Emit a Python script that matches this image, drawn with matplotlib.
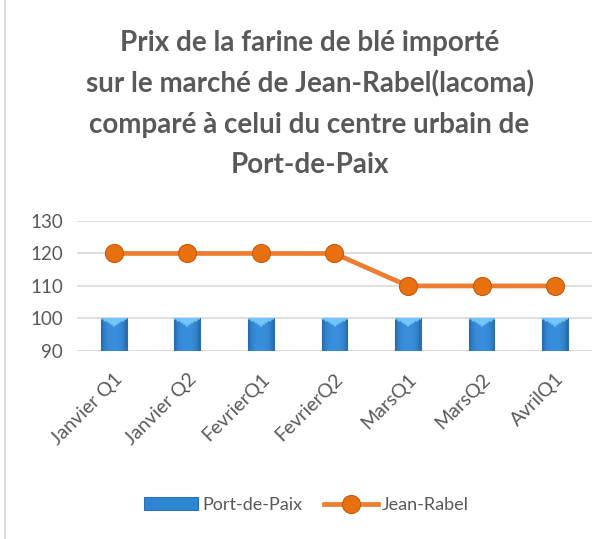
import matplotlib
matplotlib.use("Agg")
import matplotlib.pyplot as plt
import numpy as np
from matplotlib.patches import Rectangle

categories = ["Janvier Q1", "Janvier Q2", "FevrierQ1", "FevrierQ2", "MarsQ1", "MarsQ2", "AvrilQ1"]
port_de_paix = [100, 100, 100, 100, 100, 100, 100]
jean_rabel = [120, 120, 120, 120, 110, 110, 110]
yticks = [90, 100, 110, 120, 130]
title = "Prix de la farine de blé importé\nsur le marché de Jean-Rabel(lacoma)\ncomparé à celui du centre urbain de\nPort-de-Paix"

plt.rcParams['font.family'] = ['Lato', 'DejaVu Sans']
fig = plt.figure(figsize=(6.13, 5.39), dpi=100)
fig.patches.append(Rectangle((0.008, -0.01), 1.1, 1.1, transform=fig.transFigure,
                             fill=False, edgecolor='#d9d9d9', linewidth=1.2))
ax = fig.add_axes([0.1256, 0.349, 0.840, 0.241])
x = np.arange(len(categories))
bars = ax.bar(x, np.array(port_de_paix) - 90, bottom=90, width=0.35, color='#2f86d0',
              edgecolor='#2a6fae', linewidth=0.8, zorder=2, label='Port-de-Paix')
# gradient shading inside each bar
grad = np.zeros((20, 20, 3))
cx = np.abs(np.linspace(-1, 1, 20))[None, :]
dark = np.array([0.16, 0.42, 0.68])
mid = np.array([0.22, 0.56, 0.86])
light = np.array([0.45, 0.78, 0.98])
for i in range(3):
    grad[:, :, i] = mid[i] * (1 - cx ** 3) + dark[i] * cx ** 3
yy = np.linspace(1, 0, 20)[:, None]
mask = (yy > 0.78) & (cx < (yy - 0.78) / 0.22 + 0.05)
for i in range(3):
    grad[:, :, i] = np.where(mask, light[i], grad[:, :, i])
for b in bars:
    x0, y0 = b.get_x(), b.get_y()
    im = ax.imshow(grad, extent=(x0, x0 + b.get_width(), y0, y0 + b.get_height()),
                   aspect='auto', zorder=2.1, origin='upper', interpolation='bilinear')
    im.set_clip_path(b)
ax.plot(x, jean_rabel, color='#ED7D31', linewidth=3.4, marker='o', markersize=13,
        markerfacecolor='#E8700F', markeredgecolor='#c55a11', markeredgewidth=0.8,
        zorder=3, label='Jean-Rabel')
ax.set_xlim(-0.5, len(categories) - 0.5)
ax.set_ylim(90, 130)
ax.set_yticks(yticks)
ax.grid(axis='y', color='#d9d9d9', linewidth=1.2, zorder=0)
ax.set_axisbelow(True)
for s in ax.spines.values():
    s.set_visible(False)
ax.tick_params(axis='y', length=0, labelsize=13.5, colors='#595959', pad=10)
ax.tick_params(axis='x', length=0, labelsize=14, colors='#595959', pad=14)
ax.set_xticks(x)
ax.set_xticklabels(categories, rotation=45, ha='right', rotation_mode='anchor')
fig.suptitle(title, x=0.505, y=0.945, fontsize=20, fontweight='bold', color='#595959',
             linespacing=1.68)
h, l = ax.get_legend_handles_labels()
order = [l.index('Port-de-Paix'), l.index('Jean-Rabel')]
leg = fig.legend([h[i] for i in order], [l[i] for i in order], loc='center',
                 bbox_to_anchor=(0.5, 0.063), ncol=2, frameon=False,
                 fontsize=13, labelcolor='#595959', handlelength=3.0, columnspacing=1.2,
                 handletextpad=0.2)
fig.savefig("out.png", dpi=100)
